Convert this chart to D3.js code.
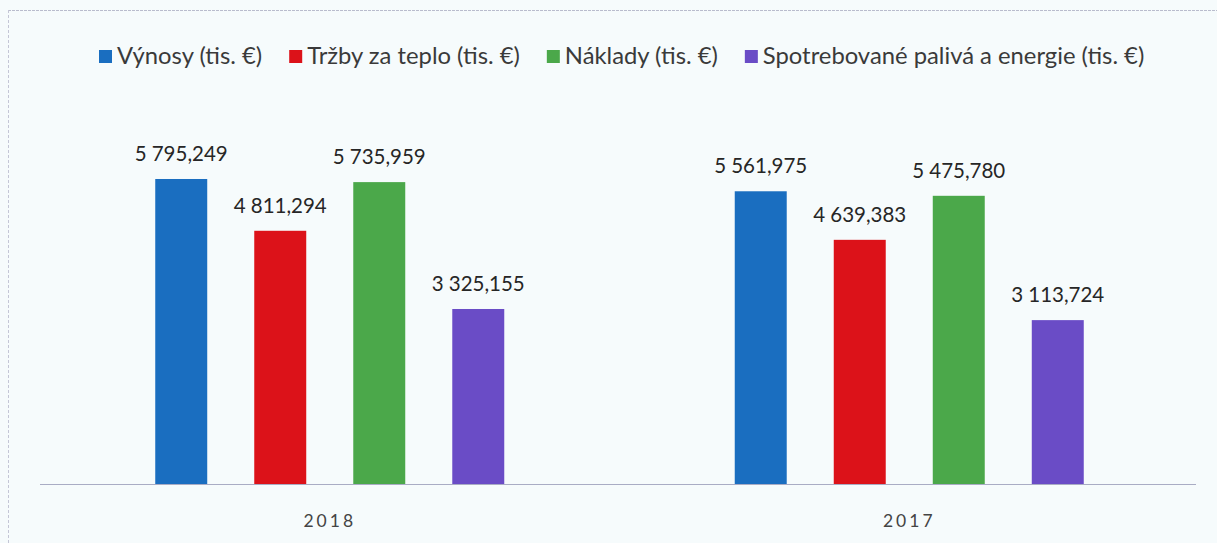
<!DOCTYPE html>
<html>
<head>
<meta charset="utf-8">
<script src="https://cdn.jsdelivr.net/npm/d3@7"></script>
<style>
  html, body { margin: 0; padding: 0; background: #f6fbfc; }
  svg { display: block; }
</style>
</head>
<body>
<svg id="chart" width="1217" height="543"></svg>
<script>
const years = ["2018", "2017"];
const seriesNames = [
  "Výnosy (tis. €)",
  "Tržby za teplo (tis. €)",
  "Náklady (tis. €)",
  "Spotrebované palivá a energie (tis. €)"
];
const vynosy = [5795.249, 5561.975];
const trzby = [4811.294, 4639.383];
const naklady = [5735.959, 5475.780];
const palivo = [3325.155, 3113.724];
const seriesColors = ["#1a6ec0", "#dc1219", "#4ba84a", "#6a4cc6"];

const seriesValues = [vynosy, trzby, naklady, palivo];

const W = 1217, H = 543;
const svg = d3.select("#chart");

// frame
svg.append("rect").attr("x", 0).attr("y", 0).attr("width", W).attr("height", H).attr("fill", "#f6fbfc");
svg.append("line").attr("x1", 8).attr("x2", W).attr("y1", 10.5).attr("y2", 10.5)
  .attr("stroke", "#b9bccd").attr("stroke-width", 1).attr("stroke-dasharray", "3,1");
svg.append("line").attr("x1", 8.5).attr("x2", 8.5).attr("y1", 10).attr("y2", H)
  .attr("stroke", "#c4c6d6").attr("stroke-width", 1).attr("stroke-dasharray", "3,2");

const baseline = 484;
const y = d3.scaleLinear().domain([0, 7000]).range([baseline, baseline - 7000 * 0.05263]);

const x0 = d3.scaleBand().domain(years).range([40, 1199]).padding(0);
const x1 = d3.scaleBand().domain(seriesNames).range([0, x0.bandwidth()])
  .paddingInner(0.475).paddingOuter(1.164);

const fmt = v => {
  const s = v.toFixed(3).split(".");
  const intPart = s[0].replace(/\B(?=(\d{3})+(?!\d))/g, "\u2005");
  return intPart + "," + s[1];
};

const font = "Lato, 'Open Sans', sans-serif";

const groups = svg.append("g").selectAll("g").data(years).join("g")
  .attr("transform", d => `translate(${x0(d)},0)`);

groups.each(function(year, yi) {
  const g = d3.select(this);
  seriesNames.forEach((name, si) => {
    const v = seriesValues[si][yi];
    g.append("rect")
      .attr("x", x1(name))
      .attr("y", y(v))
      .attr("width", x1.bandwidth())
      .attr("height", baseline - y(v))
      .attr("fill", seriesColors[si]);
    g.append("text")
      .attr("x", x1(name) + x1.bandwidth() / 2)
      .attr("y", y(v) - 18)
      .attr("text-anchor", "middle")
      .attr("font-family", font)
      .attr("font-size", 20.5)
      .attr("fill", "#262626")
      .text(fmt(v));
  });
});

// axis line
svg.append("line").attr("x1", 40).attr("x2", 1196).attr("y1", baseline + 0.5).attr("y2", baseline + 0.5)
  .attr("stroke", "#a9acc4").attr("stroke-width", 1.2);

// year labels
const xAxis = d3.axisBottom(x0).tickSize(0).tickPadding(0);
const axG = svg.append("g").attr("transform", `translate(0,${baseline})`).call(xAxis);
axG.select(".domain").remove();
axG.selectAll("text")
  .attr("y", 43)
  .attr("dy", 0)
  .attr("font-family", font)
  .attr("font-size", 17.5)
  .attr("letter-spacing", "3px")
  .attr("fill", "#444");

// legend
const legend = svg.append("g");
const legendLeft = 99, legendRight = 1145, sq = 13, gapSq = 5, gapItem = 27;
let fs = 20;
const items = legend.selectAll("g").data(seriesNames).join("g");
items.append("rect").attr("width", sq).attr("height", sq).attr("y", 50)
  .attr("fill", (d, i) => seriesColors[i]);
const texts = items.append("text").attr("y", 63.5)
  .attr("font-family", font).attr("fill", "#3a3a3a").text(d => d);
texts.attr("font-size", fs);
let total = 0;
texts.each(function() { total += this.getComputedTextLength(); });
const avail = (legendRight - legendLeft) - 4 * (sq + gapSq) - 3 * gapItem;
fs = fs * avail / total;
texts.attr("font-size", fs);
let cx = legendLeft;
items.each(function() {
  const g = d3.select(this);
  g.attr("transform", `translate(${cx},0)`);
  const t = g.select("text").attr("x", sq + gapSq);
  cx += sq + gapSq + t.node().getComputedTextLength() + gapItem;
});
</script>
</body>
</html>
